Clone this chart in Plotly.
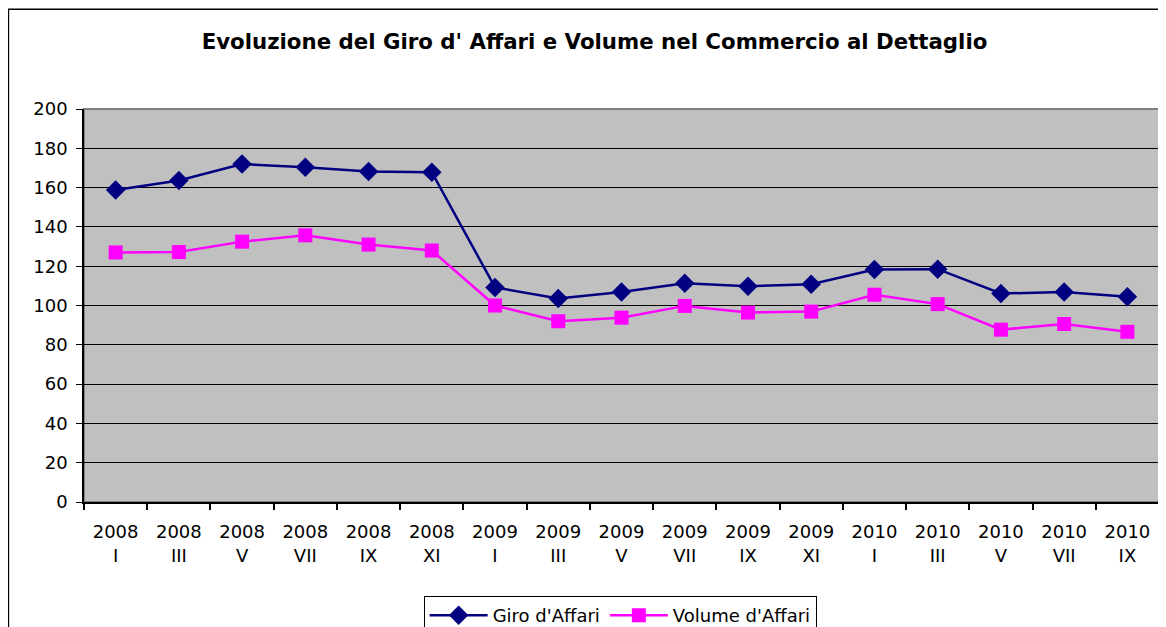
import plotly.graph_objects as go

years = ["2008"] * 6 + ["2009"] * 6 + ["2010"] * 5
months = ["I", "III", "V", "VII", "IX", "XI",
          "I", "III", "V", "VII", "IX", "XI",
          "I", "III", "V", "VII", "IX"]
categories = [f"{y}<br>{m}" for y, m in zip(years, months)]

giro = [158.8, 163.6, 172.0, 170.3, 168.2, 167.8,
        109.2, 103.6, 106.9, 111.3, 109.8, 110.8,
        118.3, 118.5, 106.1, 106.9, 104.4]
volume = [127.0, 127.2, 132.5, 135.7, 131.0, 128.0,
          100.0, 92.0, 93.8, 99.8, 96.4, 96.9,
          105.5, 100.7, 87.7, 90.6, 86.6]

FONT = "DejaVu Sans, Verdana, sans-serif"
FS = 18

fig = go.Figure()
fig.add_trace(go.Scatter(
    x=categories, y=giro, name="Giro d'Affari", mode="lines+markers",
    line=dict(color="#000080", width=2.5),
    marker=dict(symbol="diamond", size=15, color="#000080"),
))
fig.add_trace(go.Scatter(
    x=categories, y=volume, name="Volume d'Affari", mode="lines+markers",
    line=dict(color="#FF00FF", width=2.5),
    marker=dict(symbol="square", size=14, color="#FF00FF"),
))

# outer chart border (figure edge) and plot-area border
fig.add_shape(type="rect", xref="paper", yref="paper",
              x0=-0.0703, x1=1.02, y0=-0.5, y1=1.254,
              line=dict(color="#000000", width=1.5), layer="below")
fig.add_shape(type="rect", xref="paper", yref="paper",
              x0=0, x1=1, y0=0, y1=1,
              line=dict(color="#808080", width=2), layer="below")

fig.update_layout(
    width=1166, height=627,
    margin=dict(l=76, r=15, t=101, b=133, autoexpand=False),
    paper_bgcolor="white", plot_bgcolor="#C0C0C0",
    font=dict(family=FONT, size=FS, color="black"),
    title=dict(text="<b>Evoluzione del Giro d' Affari e Volume nel Commercio al Dettaglio</b>",
               x=0.503, xanchor="center", y=0.947, yanchor="middle",
               font=dict(family=FONT, size=21.3, color="black")),
    showlegend=True,
    legend=dict(orientation="h", xref="container", yref="container",
                x=0.525, xanchor="center", y=1 - 588 / 627, yanchor="top",
                bordercolor="black", borderwidth=1, bgcolor="white",
                font=dict(family=FONT, size=FS), itemwidth=58),
    xaxis=dict(type="category", showgrid=False, showline=True, linecolor="black",
               linewidth=1.5, ticks="outside", ticklen=6, tickcolor="black",
               tickwidth=1.5, tickson="boundaries", ticklabelstandoff=13,
               tickfont=dict(family=FONT, size=FS),
               range=[-0.5, len(categories) - 0.5]),
    yaxis=dict(range=[0, 200], dtick=20, showgrid=True, gridcolor="black",
               gridwidth=1, showline=True, linecolor="black", linewidth=1.5,
               ticks="outside", ticklen=6, tickcolor="black", zeroline=False,
               ticklabelstandoff=5, tickfont=dict(family=FONT, size=FS)),
)

fig.write_html("out.html")
